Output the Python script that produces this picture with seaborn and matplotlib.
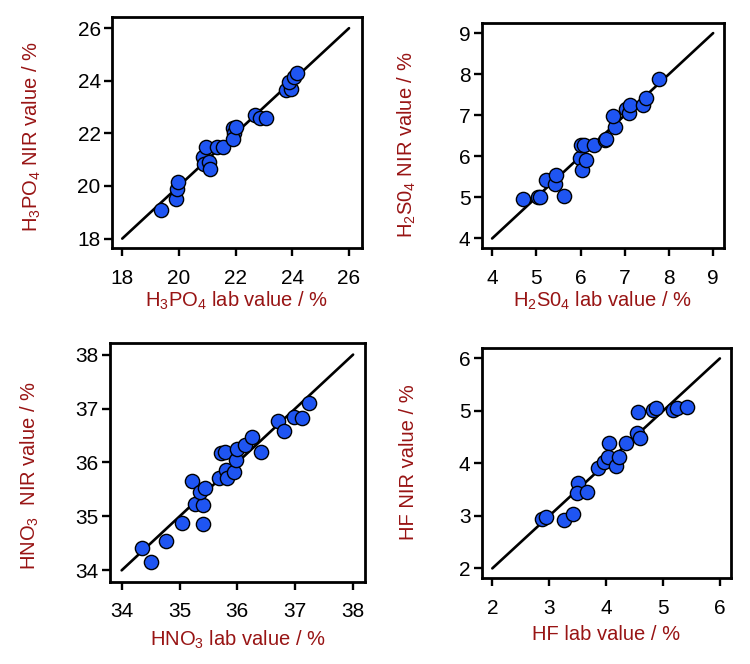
import matplotlib
matplotlib.use('Agg')
import matplotlib.pyplot as plt
import seaborn as sns
import pandas as pd

# H3PO4 panel
h3po4_lab = [19.35, 19.9, 19.92, 19.95, 20.85, 20.9, 20.97, 21.05, 21.09, 21.35, 21.55, 21.9,
             21.95, 21.92, 22.03, 22.7, 22.85, 23.08, 23.78, 23.95, 23.9, 24.05, 24.18]
h3po4_nir = [19.1, 19.5, 19.9, 20.15, 21.1, 20.85, 21.5, 20.9, 20.65, 21.5, 21.5, 22.2,
             22.0, 21.8, 22.25, 22.7, 22.6, 22.6, 23.65, 23.7, 23.95, 24.15, 24.3]

# H2SO4 panel
h2so4_lab = [4.7, 5.03, 5.08, 5.22, 5.43, 5.45, 5.63, 5.98, 6.0, 6.03, 6.12, 6.08, 6.3,
             6.55, 6.58, 6.78, 6.73, 7.02, 7.1, 7.12, 7.42, 7.47, 7.78]
h2so4_nir = [4.97, 5.0, 5.02, 5.42, 5.32, 5.55, 5.03, 5.97, 6.28, 5.67, 5.92, 6.28, 6.27,
             6.4, 6.42, 6.72, 6.98, 7.15, 7.05, 7.25, 7.25, 7.42, 7.88]

# HNO3 panel
hno3_lab = [34.36, 34.5, 34.77, 35.05, 35.41, 35.21, 35.26, 35.4, 35.35, 35.44, 35.68, 35.72,
            35.78, 35.8, 35.82, 35.95, 35.97, 35.99, 36.13, 36.25, 36.4, 36.7, 36.8, 36.97,
            37.12, 37.23]
hno3_nir = [34.42, 34.15, 34.55, 34.87, 34.85, 35.65, 35.23, 35.21, 35.45, 35.52, 35.72, 36.18,
            36.2, 35.86, 35.72, 35.82, 36.05, 36.25, 36.33, 36.47, 36.19, 36.77, 36.58, 36.85,
            36.82, 37.1]

# HF panel
hf_lab = [2.88, 2.94, 3.26, 3.41, 3.5, 3.48, 3.67, 3.86, 3.97, 4.05, 4.03, 4.17, 4.23, 4.35,
          4.54, 4.6, 4.56, 4.83, 4.88, 5.17, 5.25, 5.42]
hf_nir = [2.95, 2.97, 2.92, 3.03, 3.62, 3.43, 3.46, 3.91, 4.02, 4.38, 4.12, 3.96, 4.12, 4.38,
          4.58, 4.48, 4.98, 5.02, 5.05, 5.02, 5.06, 5.08]

# 1:1 reference line range and axis ticks per panel
line_ranges = [[18, 26], [4, 9], [34, 38], [2, 6]]
ticks = [[18, 20, 22, 24, 26], [4, 5, 6, 7, 8, 9], [34, 35, 36, 37, 38], [2, 3, 4, 5, 6]]

x_labels = ['H$_3$PO$_4$ lab value / %', 'H$_2$S0$_4$ lab value / %',
            'HNO$_3$ lab value / %', 'HF lab value / %']
y_labels = ['H$_3$PO$_4$ NIR value / %', 'H$_2$S0$_4$ NIR value / %',
            'HNO$_3$  NIR value / %', 'HF NIR value / %']

sns.set_style('ticks')
plt.rcParams['font.family'] = ['Liberation Sans', 'DejaVu Sans']
plt.rcParams['mathtext.default'] = 'regular'

LABEL_COLOR = '#981414'
POINT_COLOR = '#1f55f2'

fig = plt.figure(figsize=(7.5, 6.64), dpi=100)
positions = [
    [0.149, 0.626, 0.333, 0.349],
    [0.642, 0.626, 0.323, 0.339],
    [0.146, 0.124, 0.341, 0.359],
    [0.642, 0.129, 0.333, 0.347],
]
limits = [(17.63, 26.44), (3.76, 9.24), (33.79, 38.21), (1.81, 6.2)]
xlabel_y = [-0.18, -0.185, -0.198, -0.203]
ylabel_xy = [(-0.275, 0.48), (-0.263, 0.46), (-0.267, 0.447), (-0.255, 0.506)]

panels = [(h3po4_lab, h3po4_nir), (h2so4_lab, h2so4_nir), (hno3_lab, hno3_nir), (hf_lab, hf_nir)]

for i, (lab, nir) in enumerate(panels):
    ax = fig.add_axes(positions[i])
    df = pd.DataFrame({'lab': lab, 'nir': nir})
    sns.lineplot(x=line_ranges[i], y=line_ranges[i], color='black', linewidth=1.9, ax=ax, zorder=1)
    sns.scatterplot(data=df, x='lab', y='nir', s=105, color=POINT_COLOR, edgecolor='black',
                    linewidth=1.0, ax=ax, zorder=2)
    ax.set_xlim(limits[i])
    ax.set_ylim(limits[i])
    ax.set_xticks(ticks[i])
    ax.set_yticks(ticks[i])
    for side in ax.spines.values():
        side.set_linewidth(2.0)
        side.set_color('black')
    ax.tick_params(axis='both', direction='out', length=6, width=1.7, labelsize=15,
                   colors='black')
    ax.tick_params(axis='x', pad=9)
    ax.tick_params(axis='y', pad=2)
    ax.set_xlabel(x_labels[i], fontsize=14.5, color=LABEL_COLOR)
    ax.set_ylabel(y_labels[i], fontsize=14.5, color=LABEL_COLOR)
    ax.xaxis.set_label_coords(0.5, xlabel_y[i])
    ax.yaxis.set_label_coords(*ylabel_xy[i])

fig.savefig('out.png', dpi=100)
